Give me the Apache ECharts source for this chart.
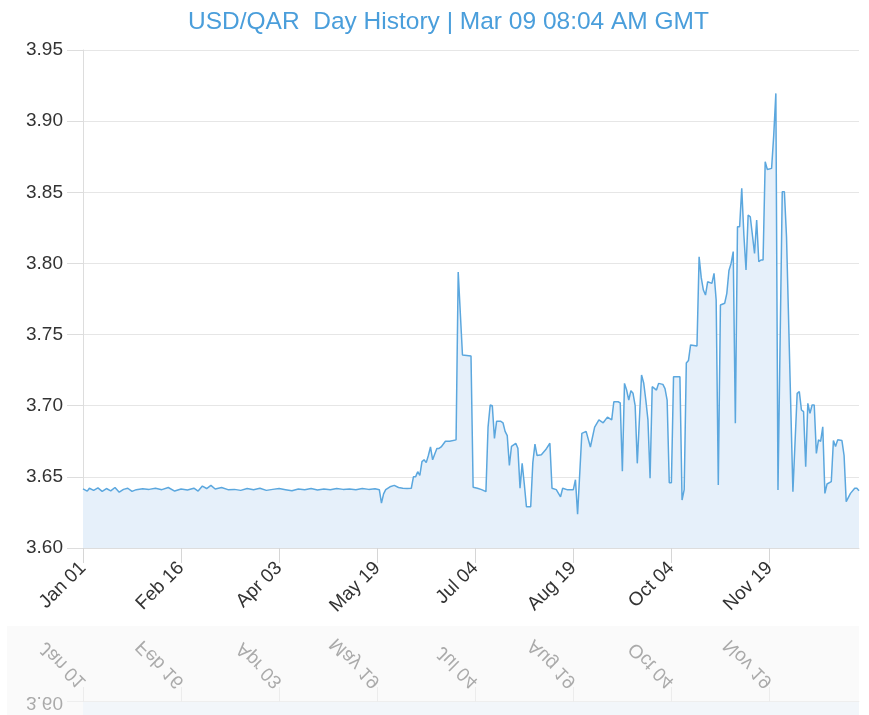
<!DOCTYPE html>
<html>
<head>
<meta charset="utf-8">
<script src="https://cdn.jsdelivr.net/npm/echarts@6/dist/echarts.min.js"></script>
<style>
  html, body { margin: 0; padding: 0; background: #fff; width: 869px; height: 715px; overflow: hidden; }
  #main { position: absolute; left: 0; top: 0; width: 869px; height: 625px; }
  #band { position: absolute; left: 7px; top: 626px; width: 852px; height: 89px; background: #fafafa; }
  #mirror { position: absolute; left: 0; top: 625px; width: 869px; height: 625px;
            transform: scaleY(-1); opacity: 0.4; }
</style>
</head>
<body>
<div id="main"></div>
<div id="band"></div>
<div id="mirror"></div>
<script>
// day of year (0 = Jan 01) and USD/QAR rate
var days = [
  0, 2, 3, 5, 7, 9, 11, 13, 15, 17, 19, 21, 23, 25, 28, 31, 34, 37, 40, 43,
  46, 49, 52, 54, 56, 58, 60, 62, 65, 68, 71, 74, 77, 80, 83, 86, 89, 92, 95, 98,
  101, 104, 107, 110, 113, 116, 119, 122, 125, 128, 131, 134, 137, 139, 140, 141, 142, 144, 146, 148,
  150, 152, 154, 155, 156, 157, 158, 159, 160, 161, 162, 163, 164, 165, 166, 167, 168, 170, 172, 175,
  176, 178, 182, 183, 185, 187, 189, 190, 191, 192, 193, 194, 196, 197, 198, 199, 200, 201, 203, 204,
  205, 206, 207, 208, 210, 211, 212, 213, 215, 217, 219, 220, 222, 224, 225, 227, 230, 231, 232, 234,
  236, 238, 240, 242, 244, 246, 248, 249, 251, 252, 253, 254, 255, 256, 257, 258, 259, 260, 262, 263,
  264, 265, 266, 267, 269, 270, 272, 273, 274, 275, 276, 277, 280, 281, 282, 283, 284, 285, 288, 289,
  290, 291, 292, 293, 295, 296, 297, 298, 299, 301, 302, 303, 304, 305, 306, 307, 308, 309, 310, 311,
  312, 313, 314, 315, 316, 317, 318, 319, 320, 321, 323, 324, 325, 326, 328, 329, 330, 333, 335, 336,
  337, 338, 339, 340, 341, 342, 343, 344, 345, 346, 347, 348, 349, 351, 352, 353, 354, 356, 357, 358,
  360, 362, 363, 364
];
var rates = [
  3.6415, 3.6400, 3.6420, 3.6405, 3.6422, 3.6398, 3.6418, 3.6402, 3.6425, 3.6392, 3.6412, 3.6420, 3.6398, 3.6410, 3.6416, 3.6412, 3.6420, 3.6410, 3.6425, 3.6400,
  3.6415, 3.6408, 3.6420, 3.6400, 3.6435, 3.6418, 3.6440, 3.6415, 3.6425, 3.6410, 3.6412, 3.6405, 3.6418, 3.6410, 3.6420, 3.6405, 3.6412, 3.6418, 3.6410, 3.6402,
  3.6415, 3.6410, 3.6418, 3.6408, 3.6415, 3.6410, 3.6418, 3.6412, 3.6415, 3.6410, 3.6418, 3.6412, 3.6416, 3.6410, 3.6315, 3.6380, 3.6410, 3.6430, 3.6440, 3.6425,
  3.6420, 3.6418, 3.6420, 3.6500, 3.6500, 3.6536, 3.6510, 3.6607, 3.6620, 3.6600, 3.6650, 3.6710, 3.6620, 3.6660, 3.6700, 3.6700, 3.6710, 3.6750, 3.6750, 3.6760,
  3.7940, 3.7356, 3.7350, 3.6427, 3.6420, 3.6410, 3.6396, 3.6850, 3.7005, 3.7000, 3.6770, 3.6890, 3.6890, 3.6880, 3.6820, 3.6790, 3.6580, 3.6715, 3.6736, 3.6700,
  3.6420, 3.6595, 3.6450, 3.6290, 3.6290, 3.6600, 3.6730, 3.6650, 3.6656, 3.6690, 3.6736, 3.6420, 3.6410, 3.6360, 3.6420, 3.6410, 3.6410, 3.6480, 3.6237, 3.6806,
  3.6820, 3.6710, 3.6850, 3.6900, 3.6880, 3.6920, 3.6900, 3.7028, 3.7028, 3.7020, 3.6540, 3.7157, 3.7110, 3.7040, 3.7105, 3.7087, 3.7000, 3.6595, 3.7216, 3.7160,
  3.7040, 3.6900, 3.6490, 3.7134, 3.7110, 3.7157, 3.7150, 3.7120, 3.7040, 3.6459, 3.6459, 3.7204, 3.7204, 3.6337, 3.6410, 3.7300, 3.7317, 3.7427, 3.7420, 3.8047,
  3.7900, 3.7813, 3.7778, 3.7871, 3.7860, 3.7930, 3.7743, 3.6443, 3.7708, 3.7720, 3.7790, 3.7950, 3.8000, 3.8083, 3.6876, 3.8258, 3.8258, 3.8528, 3.8200, 3.7954,
  3.8340, 3.8328, 3.8200, 3.8070, 3.8305, 3.8012, 3.8024, 3.8024, 3.8715, 3.8660, 3.8668, 3.8900, 3.9195, 3.6408, 3.8504, 3.8504, 3.8188, 3.6396, 3.7087, 3.7099,
  3.6970, 3.6958, 3.6571, 3.7017, 3.6946, 3.7005, 3.7005, 3.6665, 3.6760, 3.6750, 3.6852, 3.6384, 3.6450, 3.6466, 3.6755, 3.6713, 3.6760, 3.6755, 3.6650, 3.6326,
  3.6384, 3.6420, 3.6420, 3.6403
];
var tickDays = [0, 46, 92, 138, 184, 230, 276, 322];
var tickLabels = ['Jan 01', 'Feb 16', 'Apr 03', 'May 19', 'Jul 04', 'Aug 19', 'Oct 04', 'Nov 19'];

var font = "'Liberation Sans', Arial, sans-serif";
var points = days.map(function (d, i) { return [d, rates[i]]; });

var option = {
  animation: false,
  title: {
    text: 'USD/QAR  Day History | Mar 09 08:04 AM GMT',
    left: 183,
    top: 5,
    textStyle: { color: '#4a9edb', fontSize: 24.5, fontWeight: 'normal', fontFamily: font }
  },
  grid: { left: 83, right: 10, top: 50, bottom: 77 },
  xAxis: {
    type: 'value',
    min: 0,
    max: 364,
    axisLine: { lineStyle: { color: '#dddddd' } },
    axisTick: { customValues: tickDays, length: 15, lineStyle: { color: '#d6d6d6' } },
    axisLabel: {
      customValues: tickDays,
      rotate: 45,
      margin: 17,
      fontSize: 19,
      color: '#333',
      fontFamily: font,
      formatter: function (v) { return tickLabels[tickDays.indexOf(v)]; }
    },
    splitLine: { show: false }
  },
  yAxis: {
    type: 'value',
    min: 3.6,
    max: 3.95,
    interval: 0.05,
    axisLine: { show: true, lineStyle: { color: '#dddddd' } },
    axisTick: { show: true, length: 16, lineStyle: { color: '#dddddd' } },
    axisLabel: {
      margin: 20,
      fontSize: 19,
      color: '#333',
      fontFamily: font,
      formatter: function (v) { return v.toFixed(2); }
    },
    splitLine: { lineStyle: { color: '#e6e6e6' } }
  },
  series: [{
    type: 'line',
    data: points,
    showSymbol: false,
    lineStyle: { color: '#5ba7de', width: 1.5 },
    areaStyle: { color: '#e6f0fa', opacity: 1, origin: 'start' }
  }]
};

echarts.init(document.getElementById('main')).setOption(option);
echarts.init(document.getElementById('mirror')).setOption(option);
</script>
</body>
</html>
